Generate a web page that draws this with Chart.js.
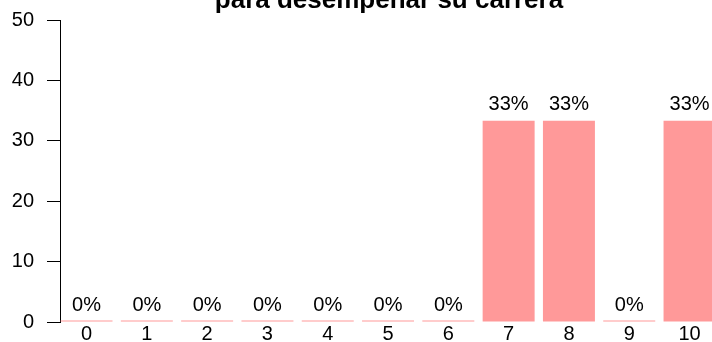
<!DOCTYPE html>
<html lang="es">
<head>
    <meta charset="UTF-8">
    <title>para desempeñar su carrera</title>
    <script src="https://cdn.jsdelivr.net/npm/chart.js"></script>
    <style>
        html, body {
            margin: 0;
            padding: 0;
            background: #fff;
        }

        #marco {
            position: relative;
            width: 712px;
            height: 342px;
            overflow: hidden;
        }

        #grafica {
            position: absolute;
            left: 0;
            top: -15px;
        }
    </style>
</head>
<body>
    <div id="marco">
        <canvas id="grafica" width="778" height="362"></canvas>
    </div>

    <script>
        // Datos
        const categorias = ['0', '1', '2', '3', '4', '5', '6', '7', '8', '9', '10'];
        const porcentajes = [0, 0, 0, 0, 0, 0, 0, 33.33, 33.33, 0, 33.33];
        const ticksY = [0, 10, 20, 30, 40, 50];

        const fuente = '"Liberation Sans", Arial, sans-serif';

        // Etiquetas de porcentaje encima de cada barra
        const etiquetasBarras = {
            id: 'etiquetasBarras',
            afterDatasetsDraw(chart) {
                const ctx = chart.ctx;
                const escalaY = chart.scales.y;
                const meta = chart.getDatasetMeta(0);
                ctx.save();
                ctx.font = '20px ' + fuente;
                ctx.fillStyle = '#000';
                ctx.textAlign = 'center';
                ctx.textBaseline = 'alphabetic';
                meta.data.forEach((barra, i) => {
                    const v = porcentajes[i];
                    const y = escalaY.getPixelForValue(v) - 11;
                    ctx.fillText(Math.round(v) + '%', barra.x, y);
                });
                ctx.restore();
            }
        };

        new Chart(document.getElementById('grafica'), {
            type: 'bar',
            data: {
                datasets: [{
                    data: porcentajes.map((v, i) => ({ x: i, y: v })),
                    backgroundColor: 'rgb(255, 153, 153)',
                    borderWidth: 0,
                    minBarLength: 1.5,
                    categoryPercentage: 1,
                    barPercentage: 0.862,
                    clip: false
                }]
            },
            options: {
                responsive: false,
                animation: false,
                devicePixelRatio: 1,
                layout: { padding: 0 },
                plugins: {
                    legend: { display: false },
                    tooltip: { enabled: false },
                    title: {
                        display: true,
                        text: 'para desempeñar su carrera',
                        color: '#000',
                        font: { family: fuente, size: 26, weight: 'bold' },
                        padding: { top: 0, bottom: 4 }
                    }
                },
                scales: {
                    x: {
                        type: 'linear',
                        min: -0.44,
                        max: 11.467,
                        offset: false,
                        afterBuildTicks: escala => {
                            escala.ticks = categorias.map((c, i) => ({ value: i }));
                        },
                        ticks: {
                            color: '#000',
                            font: { family: fuente, size: 20 },
                            padding: 0,
                            maxRotation: 0,
                            autoSkip: false,
                            callback: valor => categorias[valor]
                        },
                        grid: { display: false, drawTicks: false },
                        border: { display: false }
                    },
                    y: {
                        min: 0,
                        max: 50,
                        afterBuildTicks: escala => {
                            escala.ticks = ticksY.map(v => ({ value: v }));
                        },
                        afterFit: escala => {
                            escala.width = 60;
                        },
                        ticks: {
                            color: '#000',
                            font: { family: fuente, size: 20 },
                            padding: 13
                        },
                        grid: {
                            drawOnChartArea: false,
                            drawTicks: true,
                            tickLength: 13,
                            color: '#000',
                            lineWidth: 1
                        },
                        border: { display: true, color: '#000', width: 1 }
                    }
                }
            },
            plugins: [etiquetasBarras]
        });
    </script>
</body>
</html>
